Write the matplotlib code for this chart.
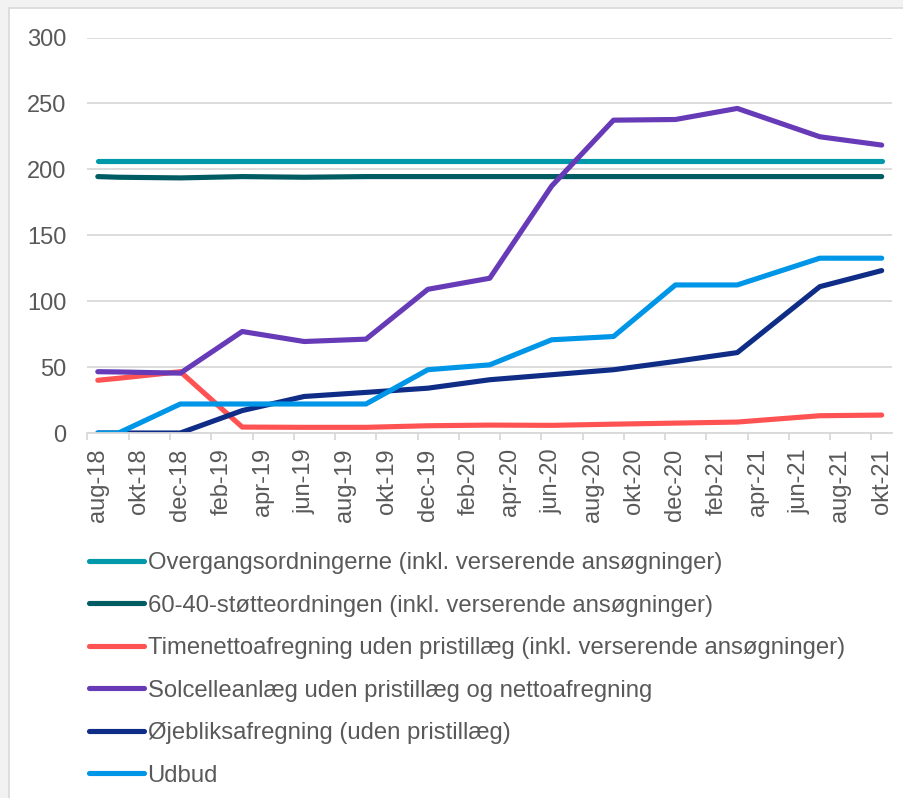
import matplotlib.pyplot as plt
from matplotlib.patches import Rectangle

# Data
dates = ['2018-08', '2018-09', '2018-12', '2019-03', '2019-06', '2019-09', '2019-12',
         '2020-03', '2020-06', '2020-09', '2020-12', '2021-03', '2021-07', '2021-10']

overgang = [206, 206, 206, 206, 206, 206, 206, 206, 206, 206, 206, 206, 206, 206]
stotte_6040 = [194.5, 194, 193.5, 194.5, 194, 194.5, 194.5, 194.5, 194.5, 194.5, 194.5, 194.5, 194.5, 194.5]
timenetto = [40, 41.5, 46.5, 4.5, 4.3, 4.3, 5.5, 6, 5.8, 6.7, 7.5, 8.3, 13.1, 13.6]
solcelle = [46.5, 46.3, 45.4, 77, 69.4, 71.2, 109, 117.4, 187.3, 237.3, 237.8, 246.2, 224.7, 218.4]
ojebliks = [0, 0, 0, 17, 27.7, 30.8, 34, 40.4, 44.2, 48, 54.3, 61, 111, 123.2]
udbud = [0, 0, 22, 22, 22, 22, 48, 51.7, 70.7, 73.2, 112.3, 112.3, 132.6, 132.6]

x_labels = ['aug-18', 'okt-18', 'dec-18', 'feb-19', 'apr-19', 'jun-19', 'aug-19', 'okt-19',
            'dec-19', 'feb-20', 'apr-20', 'jun-20', 'aug-20', 'okt-20', 'dec-20', 'feb-21',
            'apr-21', 'jun-21', 'aug-21', 'okt-21']

series = [
    ('Overgangsordningerne (inkl. verserende ansøgninger)', overgang, '#0099a9'),
    ('60-40-støtteordningen (inkl. verserende ansøgninger)', stotte_6040, '#005c63'),
    ('Timenettoafregning uden pristillæg (inkl. verserende ansøgninger)', timenetto, '#ff5353'),
    ('Solcelleanlæg uden pristillæg og nettoafregning', solcelle, '#673ab7'),
    ('Øjebliksafregning (uden pristillæg)', ojebliks, '#0f2d87'),
    ('Udbud', udbud, '#0096e8'),
]


def month_index(s):
    y, m = s.split('-')
    return (int(y) - 2018) * 12 + int(m) - 8


x = [month_index(d) for d in dates]

plt.rcParams['font.family'] = ['Liberation Sans', 'DejaVu Sans']
txt = '#595959'
fs = 17

fig = plt.figure(figsize=(9.04, 7.98), dpi=100, facecolor='#f2f2f2')
fig.patches.append(Rectangle((9 / 904, -0.01), 1.0, 1 - 8 / 798 + 0.01,
                             transform=fig.transFigure, facecolor='white',
                             edgecolor='#d9d9d9', linewidth=1.2, zorder=-10))

ax = fig.add_axes([87.5 / 904, 1 - 433 / 798, (892 - 87.5) / 904, (433 - 37.5) / 798])
ax.set_facecolor('none')

for label, vals, color in series:
    ax.plot(x, vals, color=color, linewidth=3.7, solid_capstyle='round',
            solid_joinstyle='round', label=label)

ax.set_ylim(0, 300)
ax.set_xlim(-0.5, 38.5)
ax.set_yticks(range(0, 301, 50))
ax.grid(axis='y', color='#d9d9d9', linewidth=1.3)
ax.set_axisbelow(True)
for s in ['top', 'right', 'left']:
    ax.spines[s].set_visible(False)
ax.spines['bottom'].set_color('#d9d9d9')
ax.spines['bottom'].set_linewidth(1.3)

ax.set_xticks([i - 0.5 for i in range(0, 39, 2)] + [37.5])
ax.set_xticklabels([])
ax.set_xticks(range(0, 39, 2), minor=True)
ax.set_xticklabels(x_labels, minor=True, rotation=90, fontsize=fs, color=txt)
ax.tick_params(axis='x', which='major', length=5, color='#d9d9d9', width=1.3)
ax.tick_params(axis='x', which='minor', length=0, pad=11)
ax.tick_params(axis='y', length=0, labelsize=fs, labelcolor=txt, pad=15)

leg = fig.legend(loc='upper left', bbox_to_anchor=(89 / 904, 1 - 552 / 798),
                 frameon=False, fontsize=17.2, handlelength=2.3, handletextpad=0.15,
                 labelspacing=0.86, borderpad=0, borderaxespad=0)
for t in leg.get_texts():
    t.set_color(txt)

plt.savefig('out.png', dpi=100, facecolor=fig.get_facecolor())
